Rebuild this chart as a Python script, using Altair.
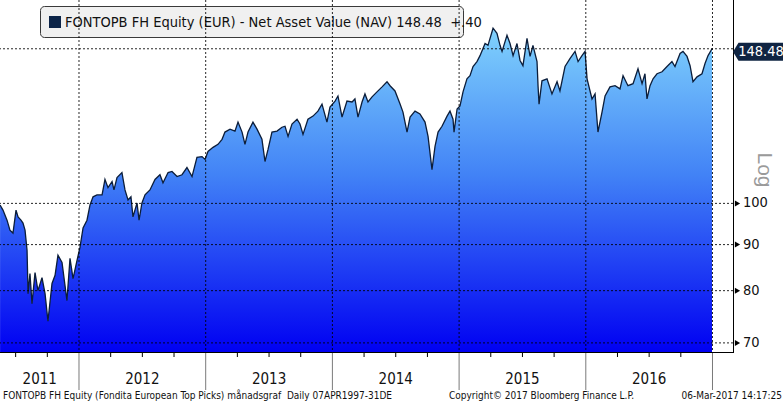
import altair as alt
import pandas as pd

# ---------------- data ----------------
t_years = [
    2011.377, 2011.400, 2011.432, 2011.455, 2011.479, 2011.503, 2011.519, 2011.542, 2011.558, 2011.574,
    2011.590, 2011.598, 2011.613, 2011.629, 2011.653, 2011.676, 2011.708, 2011.732, 2011.755, 2011.787,
    2011.811, 2011.834, 2011.866, 2011.905, 2011.929, 2011.953, 2011.984, 2012.008, 2012.032, 2012.063,
    2012.087, 2012.111, 2012.142, 2012.182, 2012.205, 2012.229, 2012.261, 2012.276, 2012.300, 2012.339,
    2012.363, 2012.387, 2012.410, 2012.426, 2012.458, 2012.474, 2012.497, 2012.521, 2012.560, 2012.600,
    2012.639, 2012.663, 2012.703, 2012.734, 2012.774, 2012.813, 2012.852, 2012.892, 2012.931, 2012.971,
    2012.995, 2013.018, 2013.058, 2013.097, 2013.129, 2013.152, 2013.192, 2013.231, 2013.255, 2013.287,
    2013.310, 2013.334, 2013.373, 2013.405, 2013.444, 2013.468, 2013.492, 2013.523, 2013.563, 2013.602,
    2013.626, 2013.650, 2013.681, 2013.721, 2013.744, 2013.768, 2013.807, 2013.847, 2013.886, 2013.918,
    2013.957, 2013.981, 2014.021, 2014.044, 2014.076, 2014.115, 2014.155, 2014.178, 2014.202, 2014.234,
    2014.257, 2014.281, 2014.313, 2014.352, 2014.392, 2014.431, 2014.455, 2014.494, 2014.534, 2014.557,
    2014.589, 2014.613, 2014.652, 2014.691, 2014.731, 2014.755, 2014.786, 2014.810, 2014.834, 2014.865,
    2014.905, 2014.928, 2014.952, 2014.960, 2014.984, 2015.007, 2015.031, 2015.062, 2015.086, 2015.110,
    2015.141, 2015.165, 2015.205, 2015.228, 2015.268, 2015.299, 2015.323, 2015.339, 2015.378, 2015.402,
    2015.426, 2015.457, 2015.481, 2015.504, 2015.536, 2015.560, 2015.583, 2015.615, 2015.623, 2015.631,
    2015.654, 2015.694, 2015.733, 2015.773, 2015.796, 2015.836, 2015.875, 2015.915, 2015.939, 2015.970,
    2015.994, 2016.010, 2016.049, 2016.073, 2016.096, 2016.128, 2016.152, 2016.191, 2016.231, 2016.270,
    2016.294, 2016.333, 2016.373, 2016.412, 2016.444, 2016.467, 2016.483, 2016.507, 2016.531, 2016.562,
    2016.602, 2016.641, 2016.680, 2016.704, 2016.744, 2016.767, 2016.799, 2016.823, 2016.846, 2016.878,
    2016.917, 2016.941, 2016.965, 2016.996,
]
nav = [
    99.6, 98.3, 95.8, 93.4, 92.7, 98.3, 96.6, 95.8, 95.1, 93.4,
    88.7, 79.4, 83.6, 77.4, 83.8, 80.0, 82.7, 79.4, 74.0, 81.5,
    83.2, 87.6, 86.0, 78.0, 86.9, 82.5, 86.4, 89.4, 93.9, 95.8,
    99.6, 101.7, 102.2, 102.2, 106.3, 104.1, 105.7, 103.5, 106.8, 108.2,
    103.5, 100.9, 101.7, 96.6, 100.1, 95.8, 100.1, 102.2, 103.5, 106.3,
    107.6, 105.4, 108.2, 108.5, 107.1, 107.6, 109.6, 107.1, 112.5, 112.7,
    111.9, 114.2, 115.4, 116.3, 117.8, 120.0, 120.9, 120.3, 123.1, 120.0,
    116.3, 120.0, 123.1, 120.9, 117.8, 111.3, 114.8, 120.0, 120.3, 121.5,
    121.8, 118.7, 122.5, 124.0, 122.5, 119.3, 124.0, 125.0, 126.6, 128.9,
    123.1, 127.9, 129.9, 131.6, 124.7, 129.9, 129.6, 130.6, 124.7, 129.6,
    132.3, 129.6, 131.3, 133.0, 134.7, 136.5, 135.1, 133.3, 128.9, 126.3,
    120.0, 124.7, 126.6, 125.7, 123.1, 118.7, 109.0, 115.7, 120.0, 121.8,
    125.0, 126.6, 124.0, 120.0, 127.3, 128.3, 133.0, 137.5, 138.6, 141.9,
    143.7, 145.9, 150.5, 149.8, 156.5, 154.5, 149.8, 147.5, 153.7, 150.5,
    145.9, 150.5, 144.1, 142.2, 152.5, 145.6, 149.8, 143.7, 135.1, 128.9,
    136.8, 137.5, 132.3, 136.5, 133.3, 141.9, 144.8, 147.5, 143.7, 145.9,
    147.5, 137.5, 130.6, 132.3, 120.0, 126.3, 131.6, 134.7, 135.1, 134.0,
    138.6, 135.1, 135.8, 141.1, 135.8, 139.3, 130.6, 135.1, 137.5, 139.3,
    140.0, 141.9, 143.7, 141.9, 146.7, 147.5, 145.6, 142.2, 136.5, 138.2,
    139.3, 143.0, 145.9, 148.48,
]

grid_levels = [70, 80, 90, 100]
last_value = 148.48
year_bounds = [2012, 2013, 2014, 2015, 2016, 2017]
quarter_ticks = [2011.5, 2011.75,
                 2012.25, 2012.5, 2012.75, 2013.25, 2013.5, 2013.75,
                 2014.25, 2014.5, 2014.75, 2015.25, 2015.5, 2015.75,
                 2016.25, 2016.5, 2016.75]
year_label_pos = [2011.69, 2012.5, 2013.5, 2014.5, 2015.5, 2016.5]
year_labels = ["2011", "2012", "2013", "2014", "2015", "2016"]

legend_text = "FONTOPB FH Equity (EUR) - Net Asset Value (NAV) 148.48\u00a0\u00a0+.40"
footer_left = "FONTOPB FH Equity (Fondita European Top Picks) m\u00e5nadsgraf\u00a0\u00a0Daily 07APR1997-31DE"
footer_mid = "Copyright\u00a9 2017 Bloomberg Finance L.P."
footer_right = "06-Mar-2017 14:17:25"

# ---------------- layout ----------------
W, H = 733, 352
T_DOMAIN = [2011.3765, 2017.1618]
V_DOMAIN = [68.39, 168.2]
NARROW = "'Liberation Sans Narrow', 'DejaVu Sans Condensed', 'Arial Narrow', sans-serif"
SANS = "'Liberation Sans', Arial, sans-serif"

xs = alt.Scale(domain=T_DOMAIN, nice=False, zero=False)
ys = alt.Scale(type="log", domain=V_DOMAIN, nice=False)

df = pd.DataFrame({"t": t_years, "v": nav})
one = pd.DataFrame({"k": [0]})

X = lambda f="t": alt.X(f"{f}:Q", scale=xs, axis=None)
Y = lambda f="v": alt.Y(f"{f}:Q", scale=ys, axis=None)

grad = alt.Gradient(
    gradient="linear",
    stops=[alt.GradientStop(color="#80d2fc", offset=0),
           alt.GradientStop(color="#4283f6", offset=0.45),
           alt.GradientStop(color="#0000f2", offset=1)],
    x1=0, x2=0, y1=0, y2=1,
)

bottom_frame = alt.Chart(one).mark_rule(color="black", strokeWidth=1).encode(
    x=alt.value(0), x2=alt.value(W), y=alt.value(H + 0.5))

area = alt.Chart(df).mark_area(color=grad, opacity=1).encode(
    x=X(), y=Y(), y2=alt.datum(V_DOMAIN[0]))
line = alt.Chart(df).mark_line(color="#0b1d3a", strokeWidth=1.3).encode(x=X(), y=Y())

legend_box = alt.Chart(one).mark_rect(fill="#f0f0f0", stroke="#3a3a3a", strokeWidth=1,
                                      cornerRadius=4).encode(
    x=alt.value(40.5), x2=alt.value(463.5), y=alt.value(6.5), y2=alt.value(37.5))
legend_marker = alt.Chart(one).mark_rect(fill="#0c2448").encode(
    x=alt.value(49), x2=alt.value(61), y=alt.value(16), y2=alt.value(28))
legend_label = alt.Chart(one).mark_text(text=legend_text, align="left", baseline="middle",
                                        font=NARROW, fontSize=14.5, color="#111").encode(
    x=alt.value(65), y=alt.value(22.5))

hgrid = alt.Chart(pd.DataFrame({"v": grid_levels + [last_value]})).mark_rule(
    color="black", strokeDash=[2, 2], strokeWidth=1, opacity=0.85).encode(y=Y())
vgrid = alt.Chart(pd.DataFrame({"t": year_bounds})).mark_rule(
    color="black", strokeDash=[2, 2], strokeWidth=1, opacity=0.85).encode(x=X())

right_frame = alt.Chart(one).mark_rule(color="black", strokeWidth=1).encode(
    x=alt.value(W + 0.5), y=alt.value(0), y2=alt.value(H + 1))

qticks = alt.Chart(pd.DataFrame({"t": quarter_ticks})).mark_rule(color="black").encode(
    x=X(), y=alt.value(H), y2=alt.value(H + 5))
yseps = alt.Chart(pd.DataFrame({"t": year_bounds})).mark_rule(color="#7a7a7a").encode(
    x=X(), y=alt.value(H + 1), y2=alt.value(H + 38))
ylabels = alt.Chart(pd.DataFrame({"t": year_label_pos, "lab": year_labels})).mark_text(
    font=NARROW, fontSize=15, color="#111", baseline="middle").encode(
    x=X(), y=alt.value(379), text="lab:N")

arrows = alt.Chart(pd.DataFrame({"v": grid_levels})).mark_point(
    shape="triangle-right", filled=True, size=36, color="black", opacity=1).encode(
    x=alt.value(W + 4.5), y=Y())
rlabels = alt.Chart(pd.DataFrame({"v": grid_levels, "lab": [str(g) for g in grid_levels]})).mark_text(
    font=NARROW, fontSize=14.5, color="#111", align="left", baseline="middle").encode(
    x=alt.value(W + 10), y=Y(), text="lab:N")

badge = alt.Chart(pd.DataFrame({"v": [last_value]})).mark_point(
    shape="M -1 0 L -0.78 -0.36 L 1 -0.36 L 1 0.36 L -0.78 0.36 Z",
    filled=True, size=2500, color="#0f2442", opacity=1, yOffset=3).encode(
    x=alt.value(W + 25), y=Y())
badge_text = alt.Chart(pd.DataFrame({"v": [last_value], "lab": ["148.48"]})).mark_text(
    font=NARROW, fontSize=14.5, color="white", align="center", baseline="middle", yOffset=3).encode(
    x=alt.value(W + 28), y=Y(), text="lab:N")

log_text = alt.Chart(one).mark_text(text="Log", font=SANS, fontSize=21, color="#9a9a9a",
                                    angle=90, align="center", baseline="middle").encode(
    x=alt.value(764), y=alt.value(170))

f1 = alt.Chart(one).mark_text(text=footer_left, font=NARROW, fontSize=10, color="#111",
                              align="left", baseline="middle").encode(
    x=alt.value(3), y=alt.value(396))
f2 = alt.Chart(one).mark_text(text=footer_mid, font=NARROW, fontSize=10, color="#111",
                              align="left", baseline="middle").encode(
    x=alt.value(449), y=alt.value(396))
f3 = alt.Chart(one).mark_text(text=footer_right, font=NARROW, fontSize=10, color="#111",
                              align="right", baseline="middle").encode(
    x=alt.value(782), y=alt.value(396))

chart = alt.layer(
    bottom_frame, area, line, legend_box, legend_marker, legend_label,
    hgrid, vgrid, right_frame, qticks, yseps, ylabels, arrows, rlabels,
    badge, badge_text, log_text, f1, f2, f3,
).properties(
    width=W, height=H,
    padding={"left": 0, "top": 0, "right": 783 - W, "bottom": 403 - H},
    autosize=alt.AutoSizeParams(type="none"),
    background="white",
).configure_view(stroke=None)

chart.save("out.html", embed_options={"renderer": "svg", "actions": False})
